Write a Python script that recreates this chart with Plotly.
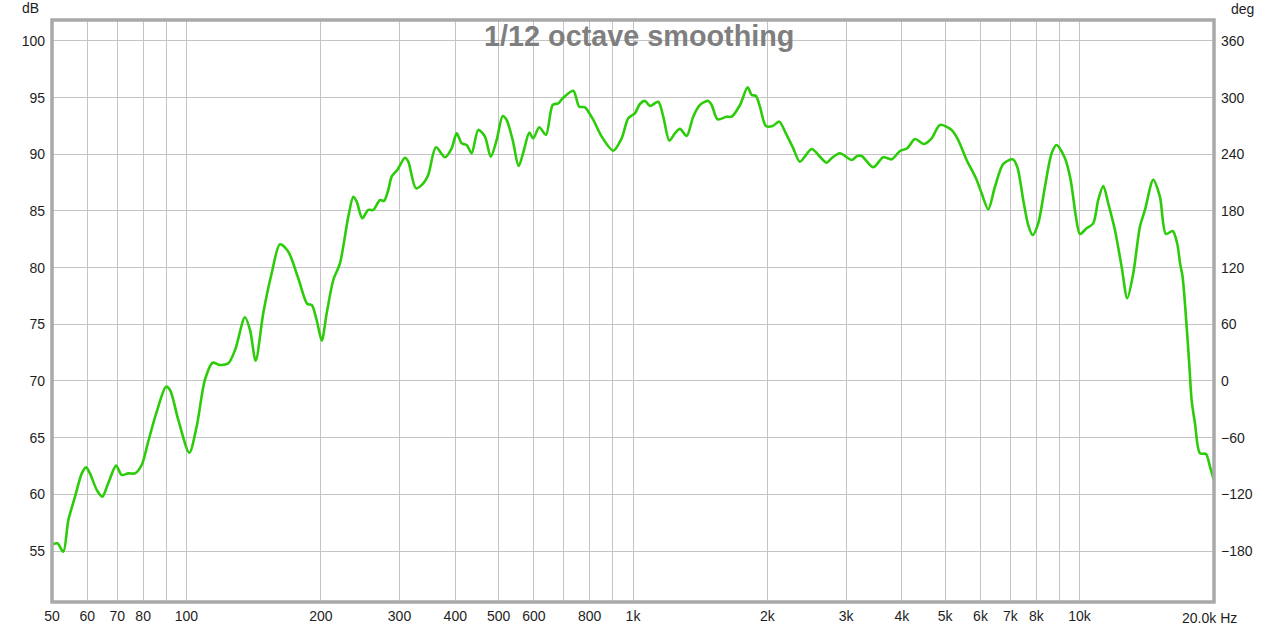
import plotly.graph_objects as go
import math

# Frequency response (1/12 octave smoothing)
freq_hz = [50, 51.4, 53.0, 54.4, 56.3, 58.3, 59.6, 60.8, 63.0, 64.8, 66.8, 69.6, 71.6, 74.1, 76.7, 79.4,
           82.1, 85.8, 90.0, 91.9, 95.9, 101.5, 105.4, 110.0, 114.5, 118.9, 124.1, 128.5, 135.2, 138.8,
           142.9, 148.6, 155.2, 162.0, 169.1, 178.0, 186.5, 190.8, 195.7, 200.9, 206.1, 213.2, 220.7,
           230.4, 236.4, 240.6, 247.6, 255.4, 262.1, 271.3, 276.9, 283.1, 288.1, 296.6, 308.6, 313.9,
           326.6, 339.1, 347.9, 362.1, 379.3, 392.6, 402.9, 413.4, 424.2, 435.2, 450.3, 466.1, 480.1,
           495.1, 510.7, 521.3, 537.7, 554.6, 569.9, 585.7, 597.9, 616.7, 638.4, 660.9, 680.3, 695.9,
           734.9, 758.0, 780.6, 814.8, 850.9, 903.3, 943.2, 975.8, 1010, 1036, 1064, 1091, 1139, 1169,
           1206, 1242, 1274, 1319, 1364, 1412, 1474, 1500, 1547, 1621, 1663, 1736, 1806, 1844, 1885,
           1924, 1985, 2055, 2126, 2208, 2285, 2365, 2512, 2622, 2714, 2785, 2906, 3087, 3177, 3251,
           3451, 3634, 3795, 3961, 4113, 4280, 4482, 4664, 4868, 5170, 5349, 5586, 5861, 6036, 6245,
           6465, 6748, 7081, 7251, 7479, 7674, 7851, 8081, 8365, 8659, 8885, 9274, 9550, 9813, 10018,
           10370, 10730, 11010, 11300, 11590, 12000, 12420, 12790, 13190, 13650, 14010, 14620, 15130,
           15610, 16160, 16540, 16790, 17010, 17370, 17600, 17820, 18130, 18600, 19190, 19590, 20000]
spl_db = [55.55, 55.68, 54.94, 57.73, 59.79, 61.85, 62.38, 61.85, 60.38, 59.79, 60.97, 62.53, 61.71,
          61.85, 61.85, 62.59, 64.64, 67.29, 69.50, 69.21, 66.56, 63.67, 65.97, 70.09, 71.61, 71.41,
          71.56, 72.73, 75.62, 74.50, 71.79, 75.97, 79.50, 82.06, 81.41, 79.06, 76.79, 76.71, 75.38,
          73.56, 75.97, 78.91, 80.38, 84.50, 86.26, 85.82, 84.36, 85.09, 85.09, 85.97, 85.88, 86.85,
          88.03, 88.62, 89.70, 89.35, 87.00, 87.44, 88.18, 90.62, 89.74, 90.53, 91.86, 90.97, 90.82,
          90.09, 92.15, 91.56, 89.79, 91.26, 93.38, 93.03, 91.26, 88.97, 90.38, 91.91, 91.41, 92.39,
          91.71, 94.35, 94.50, 94.94, 95.61, 94.20, 94.15, 93.03, 91.56, 90.32, 91.41, 93.18, 93.62,
          94.44, 94.71, 94.26, 94.64, 93.32, 91.20, 91.86, 92.24, 91.62, 93.32, 94.35, 94.71, 94.35,
          93.09, 93.32, 93.32, 94.35, 95.91, 95.24, 95.15, 94.20, 92.50, 92.50, 92.88, 91.71, 90.53,
          89.35, 90.47, 89.79, 89.26, 89.65, 90.09, 89.50, 89.85, 89.85, 88.86, 89.74, 89.56, 90.29,
          90.53, 91.35, 90.91, 91.41, 92.59, 92.15, 91.26, 89.50, 87.88, 86.56, 85.15, 87.14, 89.15,
          89.56, 88.91, 85.97, 83.76, 82.88, 83.91, 87.14, 90.09, 90.82, 89.65, 87.74, 84.50, 82.97,
          83.47, 83.91, 85.97, 87.21, 85.68, 83.32, 80.09, 77.30, 79.50, 83.61, 85.09, 87.74, 86.26,
          82.97, 83.23, 82.15, 80.38, 79.20, 74.79, 71.56, 68.32, 66.27, 63.62, 63.56, 62.44, 61.20]

# Axis ticks
x_grid = [50, 60, 70, 80, 90, 100, 200, 300, 400, 500, 600, 700, 800, 900, 1000,
          2000, 3000, 4000, 5000, 6000, 7000, 8000, 9000, 10000, 20000]
x_text = ["50", "60", "70", "80", "", "100", "200", "300", "400", "500", "600", "", "800", "", "1k",
          "2k", "3k", "4k", "5k", "6k", "7k", "8k", "", "10k", ""]
db_ticks = [55, 60, 65, 70, 75, 80, 85, 90, 95, 100]
deg_ticks = [-180, -120, -60, 0, 60, 120, 180, 240, 300, 360]

DB_RANGE = [50.5, 101.85]
DEG_RANGE = [(DB_RANGE[0] - 70) * 12, (DB_RANGE[1] - 70) * 12]

FONT = "Liberation Sans, Arial, sans-serif"
TXT = "#1e1e1e"
GRID = "#c4c4c4"

fig = go.Figure()
fig.add_trace(go.Scatter(
    x=freq_hz, y=spl_db, mode="lines",
    line=dict(color="rgb(44,204,10)", width=2.6, shape="spline", smoothing=0.8),
    showlegend=False, hoverinfo="x+y",
))
# invisible companion trace so the right-hand (deg) axis is drawn
fig.add_trace(go.Scatter(
    x=freq_hz, y=[(d - 70) * 12 for d in spl_db], yaxis="y2", mode="lines",
    line=dict(width=0, color="rgba(0,0,0,0)"), opacity=0, showlegend=False, hoverinfo="skip",
))

fig.update_layout(
    width=1280, height=632,
    margin=dict(l=52, r=66, t=20, b=30, autoexpand=False),
    paper_bgcolor="white", plot_bgcolor="white",
    font=dict(family=FONT, size=14, color=TXT),
    showlegend=False,
    xaxis=dict(
        type="log", range=[math.log10(50), math.log10(20000)],
        tickmode="array", tickvals=x_grid, ticktext=x_text,
        showgrid=True, gridcolor=GRID, gridwidth=1.2, automargin=False,
        ticks="", ticklabelstandoff=4, zeroline=False, showline=False,
        tickfont=dict(family=FONT, size=14, color=TXT),
    ),
    yaxis=dict(
        range=DB_RANGE, tickmode="array", tickvals=db_ticks, automargin=False,
        showgrid=True, gridcolor=GRID, gridwidth=1.2,
        ticks="", ticklabelstandoff=6, zeroline=False, showline=False,
        tickfont=dict(family=FONT, size=14, color=TXT),
    ),
    yaxis2=dict(
        range=DEG_RANGE, tickmode="array", tickvals=deg_ticks, automargin=False,
        overlaying="y", side="right", showgrid=False,
        ticks="", ticklabelstandoff=6, zeroline=False, showline=False,
        tickfont=dict(family=FONT, size=14, color=TXT),
    ),
)

# plot frame
fig.add_shape(type="rect", xref="paper", yref="paper", x0=0, x1=1, y0=0, y1=1,
              line=dict(color="#a9a9a9", width=3.5), layer="above")

fig.add_annotation(text="1/12 octave smoothing", xref="paper", yref="paper",
                   x=(639 - 52) / 1162, y=(602 - 36) / 582, xanchor="center", yanchor="middle",
                   showarrow=False, font=dict(family=FONT, size=28.8, color="#7f7f7f", weight="bold"))
fig.add_annotation(text="dB", xref="paper", yref="paper", x=(30 - 52) / 1162, y=(602 - 8) / 582,
                   xanchor="center", yanchor="middle", showarrow=False,
                   font=dict(family=FONT, size=14, color=TXT))
fig.add_annotation(text="deg", xref="paper", yref="paper", x=(1243 - 52) / 1162, y=(602 - 9) / 582,
                   xanchor="center", yanchor="middle", showarrow=False,
                   font=dict(family=FONT, size=14, color=TXT))
fig.add_annotation(text="20.0k Hz", xref="paper", yref="paper", x=(1239 - 52) / 1162,
                   y=(602 - 618) / 582, xanchor="right", yanchor="middle", showarrow=False,
                   font=dict(family=FONT, size=14, color=TXT))

# remove the default 8px page margin so the figure fills the window exactly
fig.write_html("out.html", config={"displayModeBar": False},
               post_script="document.body.style.margin='0px';")
